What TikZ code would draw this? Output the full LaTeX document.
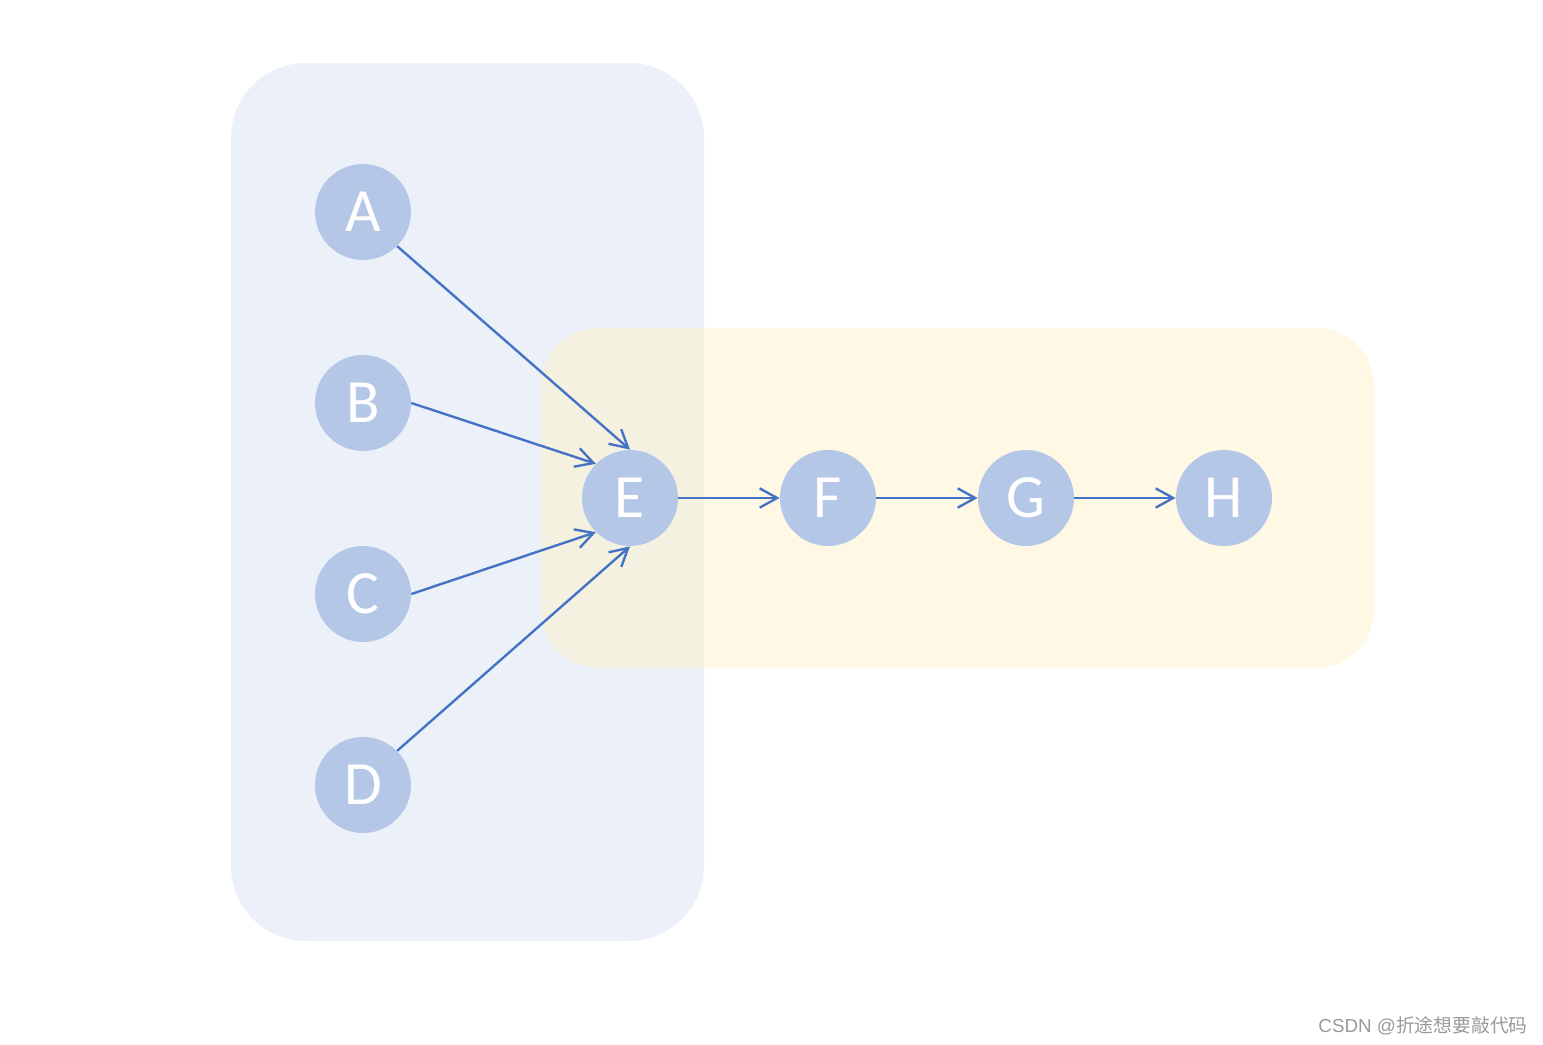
\documentclass[tikz,border=0pt]{standalone}
\usepackage{fontspec}
\setmainfont{Carlito}
\newfontfamily\wmlat{Liberation Sans}
\newfontfamily\wmcjk{Noto Sans CJK SC}
\usetikzlibrary{arrows.meta}
\definecolor{boxblue}{HTML}{DAE3F3}
\definecolor{boxyellow}{HTML}{FFF2CC}
\definecolor{nodefill}{HTML}{B4C7E7}
\definecolor{edgeblue}{HTML}{4472C4}
\definecolor{wmgray}{HTML}{9A9A9A}
\begin{document}
\begin{tikzpicture}[x=0.02cm,y=-0.02cm,
  vert/.style={circle,fill=nodefill,draw=none,minimum size=1.92cm,inner sep=0pt,
    text=white,font=\fontsize{35}{40}\selectfont},
  edge/.style={draw=edgeblue,line width=1.35pt,-{Straight Barb[length=10pt,width=11pt,line width=1.35pt]}},
  group/.style={draw=none,fill opacity=0.5}]
\useasboundingbox (0,0) rectangle (1543,1045);
\fill[white] (0,0) rectangle (1543,1045);
% group boxes
\path[group,fill=boxblue,rounded corners=1.5cm] (231,63) rectangle (704,941);
\path[group,fill=boxyellow,rounded corners=1.16cm] (541,328) rectangle (1374,668);
% nodes
\node[vert] (A) at (363,212) {\raisebox{-2pt}{A}};
\node[vert] (B) at (363,403) {\raisebox{-2pt}{B}};
\node[vert] (C) at (363,594) {\raisebox{-2pt}{C}};
\node[vert] (D) at (363,785) {\raisebox{-2pt}{D}};
\node[vert] (E) at (630,498) {\raisebox{-2pt}{E}};
\node[vert] (F) at (828,498) {\raisebox{-2pt}{F}};
\node[vert] (G) at (1026,498) {\raisebox{-2pt}{G}};
\node[vert] (H) at (1224,498) {\raisebox{-2pt}{H}};
% edges
\draw[edge] (A.south east) -- (E.north);
\draw[edge] (B.east) -- (E.north west);
\draw[edge] (C.east) -- (E.south west);
\draw[edge] (D.north east) -- (E.south);
\draw[edge] (E.east) -- (F.west);
\draw[edge] (F.east) -- (G.west);
\draw[edge] (G.east) -- (H.west);
% watermark
\node[anchor=east,inner sep=0pt,text=wmgray,font=\fontsize{10.7}{13}\selectfont] (wm) at (1528,1026) {{\wmlat CSDN @}{\wmcjk 折途想要敲代码}};
\end{tikzpicture}
\end{document}
